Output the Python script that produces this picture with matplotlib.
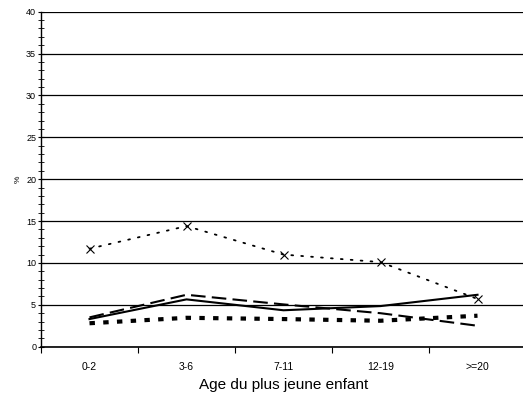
import matplotlib
matplotlib.use("Agg")
import matplotlib.pyplot as plt
import numpy as np

categories = ["0-2", "3-6", "7-11", "12-19", ">=20"]
serie_croix = [11.7, 14.4, 11.0, 10.1, 5.7]
serie_pleine = [3.3, 5.65, 4.35, 4.85, 6.2]
serie_tirets = [3.5, 6.2, 5.05, 4.0, 2.5]
serie_carres = [2.8, 3.45, 3.3, 3.1, 3.7]

plt.rcParams["font.family"] = ["Liberation Sans", "DejaVu Sans"]

fig = plt.figure(figsize=(5.23, 4.12), dpi=100)
W, H = 523, 412
ax = fig.add_axes([41 / W, (H - 346.7) / H, 485 / W, 335 / H])

x = np.arange(len(categories))

# Series
ax.plot(x, serie_croix, color="black", linewidth=1.3, linestyle=(0, (1, 4.5)),
        marker="x", markersize=6, markeredgewidth=0.8, dash_capstyle="round")
ax.plot(x, serie_pleine, color="black", linewidth=1.5, linestyle="-")
ax.plot(x, serie_tirets, color="black", linewidth=1.5, linestyle=(0, (7, 3)))
ax.plot(x, serie_carres, color="black", linewidth=3, linestyle=(0, (1.3, 2)),
        dash_capstyle="butt")

ax.set_xlim(-0.5, len(categories) - 0.5)
ax.set_ylim(0, 40)
ax.set_yticks(np.arange(0, 41, 5))
ax.set_yticks(np.arange(0, 41, 1), minor=True)
ax.yaxis.grid(True, which="major", color="black", linewidth=0.9)
ax.set_axisbelow(True)

ax.set_xticks(x)
ax.set_xticklabels(categories, fontsize=7.5)
ax.set_xticks(np.arange(-0.5, len(categories), 1), minor=True)
ax.tick_params(axis="x", which="major", length=0, pad=11)
ax.tick_params(axis="x", which="minor", length=4, direction="out", width=0.8)
ax.tick_params(axis="y", which="major", length=5, direction="inout", width=0.8,
               labelsize=6.5, pad=1)
ax.tick_params(axis="y", which="minor", length=4, direction="inout", width=0.6)

ax.spines["top"].set_visible(False)
ax.spines["right"].set_visible(False)
ax.spines["left"].set_linewidth(1)
ax.spines["bottom"].set_linewidth(1.2)

ax.set_xlabel("Age du plus jeune enfant", fontsize=11, labelpad=4)
ax.set_ylabel("%", fontsize=6, labelpad=3)

fig.savefig("out.png", dpi=100)
